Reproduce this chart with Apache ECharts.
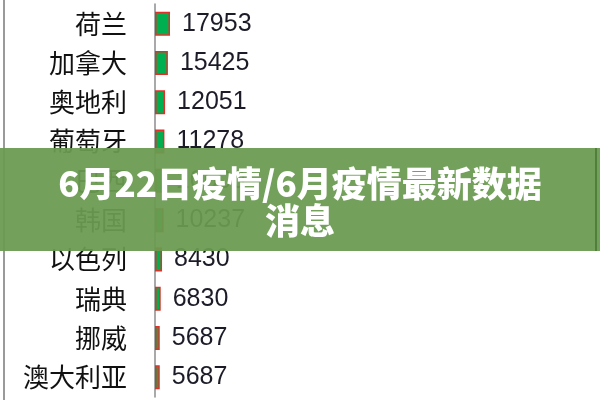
<!DOCTYPE html>
<html><head><meta charset="utf-8">
<script src="https://cdn.jsdelivr.net/npm/echarts@6/dist/echarts.min.js"></script>
<style>html,body{margin:0;padding:0;background:#fff}#c{width:600px;height:400px}</style>
</head><body><div id="c"></div>
<script>
const categories = ['荷兰','加拿大','奥地利','葡萄牙','巴西','韩国','以色列','瑞典','挪威','澳大利亚'];
const values = [17953,15425,12051,11278,10600,10237,8430,6830,5687,5687];
const titleLines = ['6月22日疫情/6月疫情最新数据','消息'];

const chart = echarts.init(document.getElementById('c'));
chart.setOption({
  animation:false,
  backgroundColor:'#ffffff',
  grid:{left:155,right:0,top:4,bottom:3},
  xAxis:{type:'value',min:0,max:532000,show:false,splitLine:{show:false}},
  yAxis:{type:'category',data:categories,inverse:true,
    axisLine:{lineStyle:{color:'#8c8c8c',width:1.5}},
    axisTick:{length:5,lineStyle:{color:'#8c8c8c',width:1.5}},
    axisLabel:{margin:28,fontSize:26,color:'#111',fontFamily:'Noto Sans CJK SC'}
  },
  series:[{type:'bar',data:values,barWidth:24,
    itemStyle:{color:'#00b050',borderColor:'#e0302a',borderWidth:1.5},
    label:{show:true,position:'right',distance:12,fontSize:25,color:'#1c1c28',fontFamily:'Liberation Sans',padding:[4,0,0,0]}
  }],
  graphic:[
    {type:'line',shape:{x1:4,y1:0,x2:4,y2:400},style:{stroke:'#9a9a9a',lineWidth:2},z:1},
    {type:'rect',shape:{x:0,y:148,width:600,height:103},style:{fill:'rgba(106,154,80,0.94)'},z:100},
    {type:'line',shape:{x1:596,y1:148,x2:596,y2:251},style:{stroke:'#4f7f3a',lineWidth:2},z:100},
    {type:'text',x:300,y:202,z:101,style:{text:titleLines.join('\n'),fill:'#ffffff',font:'900 35px "Noto Sans CJK SC"',align:'center',verticalAlign:'middle',lineHeight:37}}
  ]
});
</script></body></html>
